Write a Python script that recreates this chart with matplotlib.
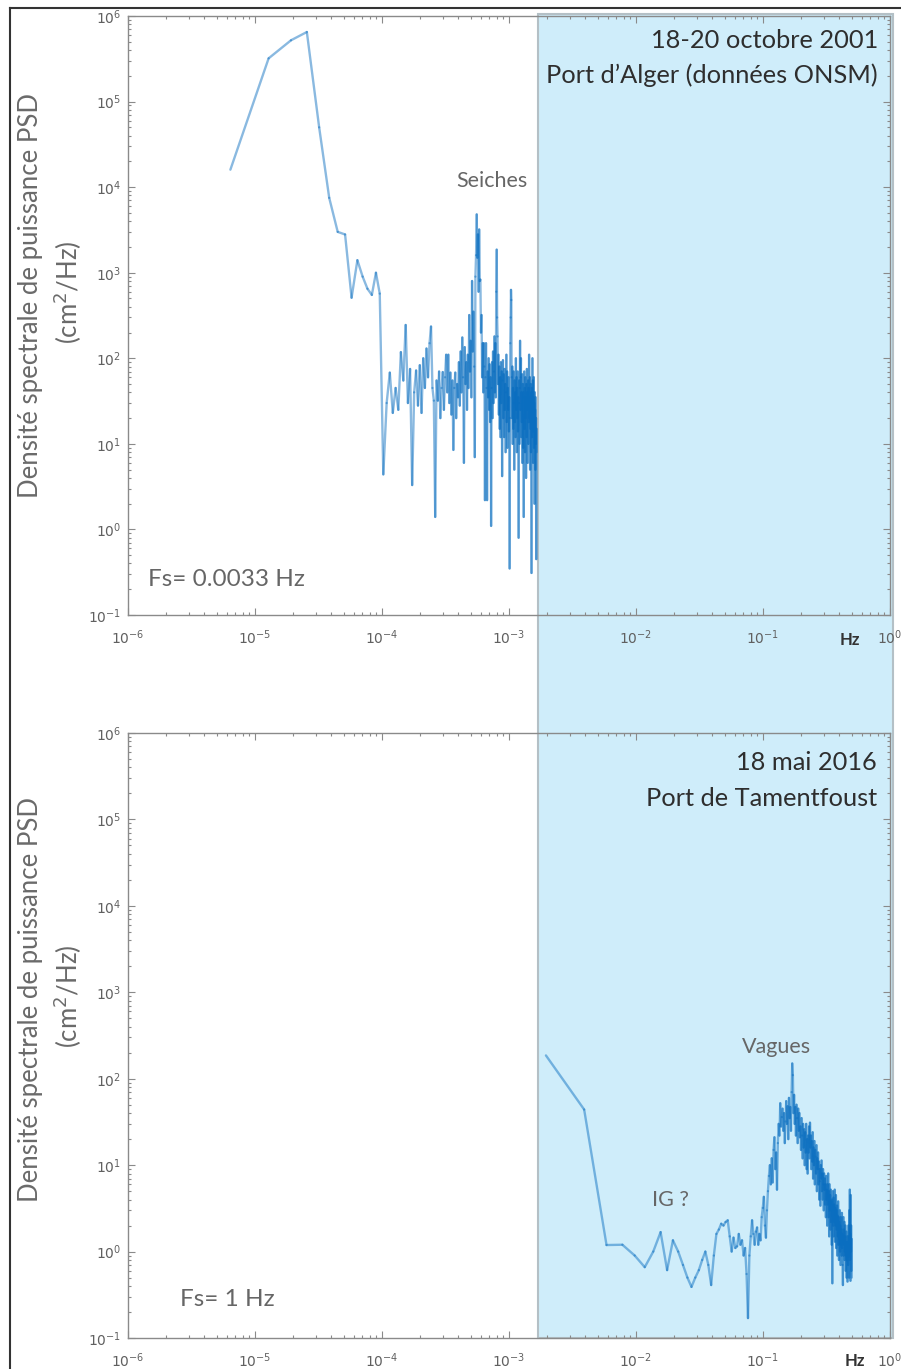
import numpy as np
import matplotlib
matplotlib.use("Agg")
import matplotlib.pyplot as plt
from matplotlib.collections import LineCollection
from matplotlib.patches import Rectangle
from matplotlib.lines import Line2D
from matplotlib.ticker import LogLocator, NullFormatter

# ---------------- data ----------------
# Port d'Alger, 18-20 Oct 2001 (Fs = 0.0033 Hz), frequency resolution df_alger
df_alger = 6.4e-6
psd_alger = [
    1.6e4, 3.2e5, 5.2e5, 6.5e5, 5.0e4, 7.5e3, 3.0e3, 2.8e3, 5.1e2, 1.4e3,
    9.0e2, 6.5e2, 5.5e2, 1.0e3, 5.7e2,
    4.4, 30, 68, 23, 45, 25, 118, 55, 245, 30,
    75, 3.3, 40, 72, 28, 83, 23, 100, 45, 130,
    60, 150, 235, 45, 32, 1.4, 55, 32, 70, 20,
    45, 69, 25, 60, 110, 40, 110, 30, 68, 22,
    55, 8.5, 45, 68, 20, 50, 35, 90, 28, 120,
    40, 175, 60, 6, 135, 50, 90, 25, 110, 45,
    320, 70, 160, 35, 800, 120, 350, 80, 7, 900,
    1600, 4800, 1500, 2800, 600, 3200, 800, 830, 200, 320,
    60, 150, 40, 150, 80, 2.2, 60, 150, 45, 2.2,
    70, 35, 100, 25, 85, 18, 60, 1.1, 45, 90,
    20, 120, 30, 70, 180, 40, 150, 35, 600, 1860,
    300, 180, 50, 110, 22, 80, 15, 60, 12, 90,
    30, 70, 4.2, 55, 95, 20, 65, 12, 75, 25,
    50, 8, 40, 110, 18, 70, 9, 45, 25, 60,
    14, 35, 0.35, 20, 150, 300, 630, 480, 60, 20,
    80, 10, 45, 15, 70, 30, 5, 55, 18, 40,
    12, 100, 25, 60, 8, 45, 20, 70, 14, 35,
    0.8, 30, 55, 10, 45, 160, 25, 60, 100, 12,
    40, 18, 65, 6, 30, 50, 9, 40, 1.4, 35,
    70, 15, 45, 8, 60, 20, 35, 4, 50, 12,
    75, 25, 40, 6, 30, 55, 10, 45, 18, 110,
    30, 20, 60, 5, 35, 15, 50, 8, 40, 0.31,
    25, 45, 12, 100, 20, 55, 6, 35, 14, 60,
    9, 30, 2, 40, 15, 25, 5, 35, 10, 20,
    0.45, 15, 8,
]

# Port de Tamentfoust, 18 May 2016 (Fs = 1 Hz), frequency resolution df_tam
df_tam = 1.0 / 512
psd_tam = [
    186, 44, 1.19, 1.2, 0.9, 0.66, 1.0, 1.68, 0.61, 1.35,
    1.0, 0.7, 0.5, 0.39, 0.5, 0.61, 0.8, 1.0, 0.7, 0.41,
    0.9, 1.6, 1.8, 2.1, 2.0, 2.2, 2.3, 1.5, 1.0, 1.45,
    1.1, 1.15, 1.6, 1.2, 1.35, 0.9, 1.1, 0.55, 0.17, 0.9,
    1.5, 2.3, 1.6, 1.2, 1.7, 1.9, 1.2, 1.6, 1.35, 2.5,
    3.2, 4.3, 2.0, 1.45, 3.0, 5.0, 7.5, 10, 6.0, 12,
    6.3, 15, 21, 9.0, 14, 5.2, 18, 30, 22, 52,
    28, 36, 45, 25, 40, 18, 32, 55, 30, 48,
    20, 60, 35, 47, 25, 70, 150, 110, 40, 65,
    30, 47, 22, 50, 35, 18, 45, 25, 40, 21,
    28, 15, 35, 22, 12, 30, 16, 26, 10, 24,
    14, 30, 9, 20, 8.0, 22, 14, 28, 12, 31,
    16, 22, 9, 19, 11, 24, 7, 16, 10, 19,
    6, 15, 12.5, 8, 17, 5, 12, 9, 14, 6,
    11, 4, 9, 6.5, 3.4, 10, 7, 11.3, 5, 8,
    4, 9, 6, 3, 8, 5.2, 7, 3.5, 6, 2.5,
    7.5, 4, 5.2, 2, 6, 3.5, 8, 2.5, 5, 1.5,
    6, 3, 4.5, 1.8, 5.2, 2.2, 3.8, 1.2, 4, 0.43,
    3, 5, 2, 4.2, 1.5, 3.5, 2.2, 5.2, 1.3, 3.2,
    2, 4.5, 1.1, 3, 1.8, 3.4, 0.9, 2.6, 1.5, 3.8,
    1.2, 2.5, 0.8, 2.2, 1.4, 3.0, 1.0, 2.0, 0.7, 2.5,
    1.2, 1.8, 0.9, 2.8, 1.1, 1.6, 0.7, 0.41, 1.5, 2.5,
    0.9, 1.8, 1.2, 2.2, 0.8, 1.5, 1.0, 2.0, 0.6, 1.3,
    0.9, 1.7, 0.5, 1.2, 0.8, 1.5, 0.45, 1.0, 1.3, 0.7,
    2.0, 0.87, 1.5, 0.5, 3.0, 1.2, 5.2, 0.8, 1.6, 0.46,
    4.5, 1.0, 2.0, 0.6, 1.4, 0.5,
]

shade_start = 1.69e-3   # Hz, start of the highlighted band
x_limits = (1e-6, 1e0)
y_limits = (1e-1, 1e6)

# ---------------- figure ----------------
W, H = 901, 1369
fig = plt.figure(figsize=(W / 100, H / 100), dpi=100)
fig.patch.set_facecolor("white")

def fx(px):
    return px / W

def fy(py):
    return 1 - py / H

ax1 = fig.add_axes([fx(128), fy(615), fx(890) - fx(128), fy(16) - fy(615)])
ax2 = fig.add_axes([fx(128), fy(1338), fx(890) - fx(128), fy(733) - fy(1338)])

line_color = "#0a6ec0"
spine_col = "#8a8a8a"
tick_lab_col = "#606060"

def draw_psd(ax, df, psd):
    f = df * np.arange(1, len(psd) + 1)
    p = np.asarray(psd, dtype=float)
    pts = np.column_stack([f, p])
    segs = np.stack([pts[:-1], pts[1:]], axis=1)
    lc = LineCollection(segs, colors=line_color, linewidths=1.7, alpha=0.48,
                        capstyle="round", joinstyle="round", zorder=3)
    ax.add_collection(lc)

for ax, df, psd in [(ax1, df_alger, psd_alger), (ax2, df_tam, psd_tam)]:
    ax.set_xscale("log")
    ax.set_yscale("log")
    ax.set_xlim(*x_limits)
    ax.set_ylim(*y_limits)
    ax.set_facecolor("none")
    draw_psd(ax, df, psd)
    for s in ax.spines.values():
        s.set_color(spine_col)
        s.set_linewidth(1.0)
    ax.xaxis.set_major_locator(LogLocator(base=10, numticks=10))
    ax.yaxis.set_major_locator(LogLocator(base=10, numticks=10))
    ax.xaxis.set_minor_locator(LogLocator(base=10, subs=np.arange(2, 10), numticks=20))
    ax.yaxis.set_minor_locator(LogLocator(base=10, subs=np.arange(2, 10), numticks=20))
    ax.xaxis.set_minor_formatter(NullFormatter())
    ax.yaxis.set_minor_formatter(NullFormatter())
    ax.tick_params(which="both", direction="in", top=True, right=True,
                   color=spine_col, width=0.8)
    ax.tick_params(which="major", length=5)
    ax.tick_params(which="minor", length=2.5)
    ax.tick_params(axis="x", which="major", pad=10, labelsize=10, labelcolor=tick_lab_col)
    ax.tick_params(axis="y", which="major", pad=5, labelsize=10, labelcolor=tick_lab_col)

# highlighted band spanning both panels
fig.canvas.draw()
x0_disp = ax1.transData.transform((shade_start, 1.0))[0]
x0_fig = fig.transFigure.inverted().transform((x0_disp, 0))[0]
rect = Rectangle((x0_fig, fy(1338)), fx(893) - x0_fig, fy(14) - fy(1338),
                 transform=fig.transFigure, facecolor="#cfedfa",
                 edgecolor="#b4c0c6", linewidth=1.5, zorder=-1)
fig.add_artist(rect)

# outer frame (left and top)
fig.add_artist(Line2D([fx(10), fx(10)], [fy(8), 0], transform=fig.transFigure,
                      color="#333333", linewidth=1.5))
fig.add_artist(Line2D([fx(10), 1], [fy(8), fy(8)], transform=fig.transFigure,
                      color="#333333", linewidth=1.5))

txt_font = ["Lato", "DejaVu Sans"]
ylab_col = "#6a6a6a"

for yc in (296, 1000):
    fig.text(fx(31), fy(yc), "Densité spectrale de puissance PSD", rotation=90,
             ha="center", va="center", fontsize=18.5, color=ylab_col, family=txt_font)
    fig.text(fx(68), fy(yc - 4), "(cm$^2$/Hz)", rotation=90,
             ha="center", va="center", fontsize=18.5, color=ylab_col, family=txt_font)

# Hz labels
fig.text(fx(850), fy(640), "Hz", ha="center", va="center", fontsize=12,
         fontweight="bold", color="#333333", family=txt_font)
fig.text(fx(855), fy(1361), "Hz", ha="center", va="center", fontsize=12,
         fontweight="bold", color="#333333", family=txt_font)

dark = "#2e2e2e"
grey = "#666666"
fig.text(fx(878), fy(40), "18-20 octobre 2001", ha="right", va="center",
         fontsize=18.3, color=dark, family=txt_font)
fig.text(fx(878), fy(75), "Port d\u2019Alger (données ONSM)", ha="right", va="center",
         fontsize=18.3, color=dark, family=txt_font)
fig.text(fx(492), fy(181), "Seiches", ha="center", va="center",
         fontsize=15.5, color=grey, family=txt_font)
fig.text(fx(148), fy(580), "Fs= 0.0033 Hz", ha="left", va="center",
         fontsize=17.5, color=grey, family=txt_font)

fig.text(fx(877), fy(763), "18 mai 2016", ha="right", va="center",
         fontsize=18.3, color=dark, family=txt_font)
fig.text(fx(877), fy(798), "Port de Tamentfoust", ha="right", va="center",
         fontsize=18.3, color=dark, family=txt_font)
fig.text(fx(776), fy(1047), "Vagues", ha="center", va="center",
         fontsize=15.5, color=grey, family=txt_font)
fig.text(fx(671), fy(1200), "IG ?", ha="center", va="center",
         fontsize=15.5, color=grey, family=txt_font)
fig.text(fx(180), fy(1300), "Fs= 1 Hz", ha="left", va="center",
         fontsize=17.5, color=grey, family=txt_font)

fig.savefig("out.png", dpi=100)
